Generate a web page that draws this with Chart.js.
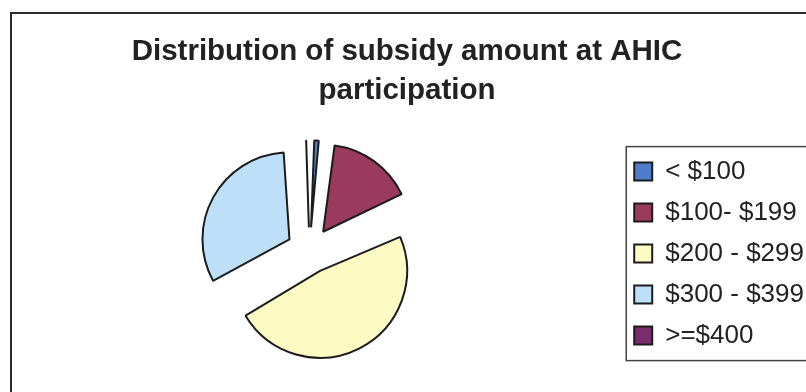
<!DOCTYPE html>
<html>
<head>
<meta charset="utf-8">
<script src="https://cdn.jsdelivr.net/npm/chart.js@4.4.1/dist/chart.umd.min.js"></script>
<style>
  html, body { margin: 0; padding: 0; background: #fff; overflow: hidden; }
  #frame { position: absolute; left: 10px; top: 12px; width: 900px; height: 500px; border: 2px solid #2a2a2a; }
  #wrap { position: absolute; left: 0; top: 0; width: 806px; height: 392px; }
</style>
</head>
<body>
<div id="frame"></div>
<div id="wrap"><canvas id="myChart"></canvas></div>
<script>
// subsidy bands and share of participants (%)
const bands = ['< $100', '$100- $199', '$200 - $299', '$300 - $399', '>=$400'];
const shares = [2, 16, 49, 32, 1];
const sliceColors = ['#4f7ccc', '#9a3a5c', '#fdfbc4', '#bddff7', '#7a2d6e'];
const titleLines = ['Distribution of subsidy amount at AHIC', 'participation'];

const pieRadius = 87;
const explode = 92; // chart.js moves each slice by offset / 4

// keep every exploded slice the same size (chart.js grows big slices)
const evenExplode = {
  id: 'evenExplode',
  beforeDatasetsDraw(chart) {
    chart.getDatasetMeta(0).data.forEach(arc => {
      const fix = 1 - Math.sin(Math.min(Math.PI, arc.circumference));
      arc.outerRadius = pieRadius - (explode / 4) * fix;
    });
  }
};

// box round the legend, cut by the right edge like the original
const legendBox = {
  id: 'legendBox',
  afterDraw(chart) {
    const boxes = chart.legend.legendHitBoxes;
    if (!boxes || !boxes.length) return;
    const first = boxes[0];
    const last = boxes[boxes.length - 1];
    const ctx = chart.ctx;
    ctx.save();
    ctx.strokeStyle = '#444';
    ctx.lineWidth = 1.5;
    const x = first.left - 8;
    const y = first.top - 12;
    ctx.strokeRect(x, y, chart.width + 20 - x, last.top + last.height + 12 - y);
    ctx.restore();
  }
};

let ctx = document.getElementById('myChart').getContext('2d');
new Chart(ctx, {
  type: 'pie',
  data: {
    labels: bands,
    datasets: [{
      data: shares,
      backgroundColor: sliceColors,
      borderColor: '#1c1c1c',
      borderWidth: 2,
      offset: explode,
      radius: pieRadius
    }]
  },
  options: {
    responsive: true,
    maintainAspectRatio: false,
    animation: false,
    events: [],
    layout: { padding: { left: 0, right: -8, top: 0, bottom: 6 } },
    plugins: {
      title: {
        display: true,
        text: titleLines,
        color: '#222',
        font: { family: 'Liberation Sans', size: 29.5, weight: 'bold', lineHeight: 1.3 },
        padding: { top: 33, bottom: 5 }
      },
      legend: {
        position: 'right',
        title: { display: true, text: ' ', font: { size: 1 }, padding: 60 },
        labels: {
          color: '#222',
          font: { family: 'Liberation Sans', size: 26 },
          boxWidth: 18,
          boxHeight: 18,
          padding: 15
        }
      },
      tooltip: { enabled: false }
    }
  },
  plugins: [evenExplode, legendBox]
});
</script>
</body>
</html>
